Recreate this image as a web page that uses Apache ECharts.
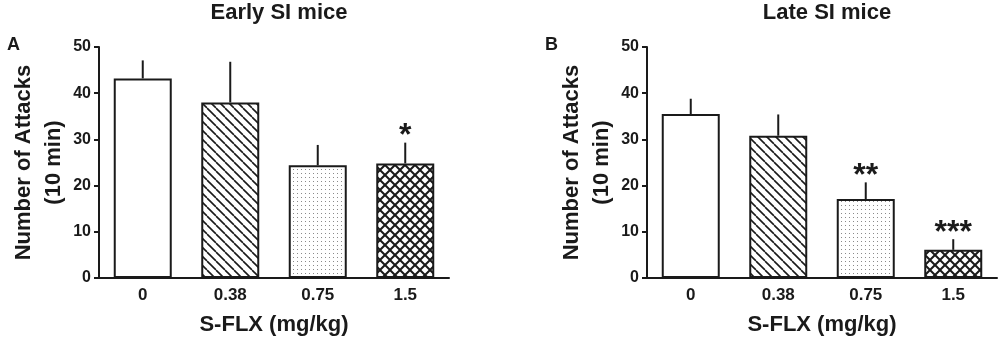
<!DOCTYPE html>
<html>
<head>
<meta charset="utf-8">
<script src="https://cdn.jsdelivr.net/npm/echarts@6/dist/echarts.min.js"></script>
<style>
html, body { margin: 0; padding: 0; background: #fff; }
#main { width: 1000px; height: 341px; }
</style>
</head>
<body>
<div id="main"></div>
<script>
var doses = ['0', '0.38', '0.75', '1.5'];
var earlyMean = [43.2, 38.0, 24.4, 24.8];
var earlyErr = [47.1, 46.8, 28.8, 29.3];
var earlySig = ['', '', '', '*'];
var lateMean = [35.5, 30.8, 17.1, 6.1];
var lateErr = [38.8, 35.4, 20.7, 8.4];
var lateSig = ['', '', '**', '***'];
var yTicks = [0, 10, 20, 30, 40, 50];

var font = 'Liberation Sans, Arial, sans-serif';
var ink = '#1a1a1a';

// fill patterns for the bars
function tile(size, draw) {
    var c = document.createElement('canvas');
    c.width = size;
    c.height = size;
    var ctx = c.getContext('2d');
    ctx.fillStyle = '#fff';
    ctx.fillRect(0, 0, size, size);
    draw(ctx, size);
    return { image: c, repeat: 'repeat' };
}
function diag(ctx, p, dir) {
    for (var k = -1; k <= 1; k++) {
        ctx.beginPath();
        if (dir > 0) {
            ctx.moveTo(k * p, 0);
            ctx.lineTo(k * p + p, p);
        } else {
            ctx.moveTo(k * p + p, 0);
            ctx.lineTo(k * p, p);
        }
        ctx.stroke();
    }
}
var fills = [
    '#ffffff',
    tile(9, function (ctx, p) {
        ctx.strokeStyle = ink;
        ctx.lineWidth = 1.6;
        diag(ctx, p, 1);
    }),
    tile(4, function (ctx, p) {
        ctx.fillStyle = '#8a8a8a';
        ctx.fillRect(1, 1, 1, 1);
    }),
    tile(10, function (ctx, p) {
        ctx.strokeStyle = ink;
        ctx.lineWidth = 2;
        diag(ctx, p, 1);
        diag(ctx, p, -1);
    })
];

function barData(vals) {
    return vals.map(function (v, i) {
        return { value: v, itemStyle: { color: fills[i] } };
    });
}
function errData(mean, err) {
    return mean.map(function (v, i) { return [i, v, err[i]]; });
}
function errRender(sig) {
    return function (params, api) {
        var base = api.coord([api.value(0), api.value(1)]);
        var top = api.coord([api.value(0), api.value(2)]);
        return {
            type: 'group',
            children: [
                {
                    type: 'line',
                    shape: { x1: base[0], y1: base[1], x2: top[0], y2: top[1] },
                    style: { stroke: ink, lineWidth: 2 }
                },
                {
                    type: 'text',
                    style: {
                        x: top[0], y: top[1] - 6,
                        text: sig[params.dataIndex],
                        fill: ink,
                        font: 'bold 32px ' + font,
                        textAlign: 'center',
                        textVerticalAlign: 'middle'
                    }
                }
            ]
        };
    };
}

function xAxisOf(grid) {
    return {
        type: 'category',
        gridIndex: grid,
        data: doses,
        name: 'S-FLX (mg/kg)',
        nameLocation: 'middle',
        nameGap: 36,
        nameTextStyle: { color: ink, fontSize: 22, fontWeight: 'bold', fontFamily: font },
        axisLine: { lineStyle: { color: ink, width: 2 } },
        axisTick: { alignWithLabel: true, length: 5, lineStyle: { color: ink, width: 2 } },
        axisLabel: { color: ink, fontSize: 17, fontWeight: 'bold', fontFamily: font, margin: 9 }
    };
}
function yAxisOf(grid) {
    return {
        type: 'value',
        gridIndex: grid,
        min: yTicks[0],
        max: yTicks[yTicks.length - 1],
        interval: 10,
        name: 'Number of Attacks\n(10 min)',
        nameLocation: 'middle',
        nameGap: 25,
        nameTextStyle: { color: ink, fontSize: 22, fontWeight: 'bold', fontFamily: font, lineHeight: 30 },
        axisLine: { show: true, lineStyle: { color: ink, width: 2 } },
        axisTick: { show: true, length: 5, lineStyle: { color: ink, width: 2 } },
        axisLabel: { color: ink, fontSize: 16, fontWeight: 'bold', fontFamily: font, margin: 8 },
        splitLine: { show: false }
    };
}

var chart = echarts.init(document.getElementById('main'));
var titleStyle = { color: ink, fontSize: 22, fontWeight: 'bold', fontFamily: font };
var option = {
    animation: false,
    title: [
        { text: 'Early SI mice', left: 274, top: -3, textAlign: 'center', textStyle: titleStyle },
        { text: 'Late SI mice', left: 822, top: -3, textAlign: 'center', textStyle: titleStyle },
        { text: 'A', left: 2, top: 31, textStyle: { color: ink, fontSize: 18, fontWeight: 'bold', fontFamily: font } },
        { text: 'B', left: 540, top: 31, textStyle: { color: ink, fontSize: 18, fontWeight: 'bold', fontFamily: font } }
    ],
    grid: [
        { left: 99, right: 551, top: 47, bottom: 61.5 },
        { left: 647, right: 3, top: 47, bottom: 61.5 }
    ],
    xAxis: [xAxisOf(0), xAxisOf(1)],
    yAxis: [yAxisOf(0), yAxisOf(1)],
    series: [
        {
            type: 'bar', xAxisIndex: 0, yAxisIndex: 0, barWidth: 58,
            itemStyle: { borderColor: ink, borderWidth: 2 },
            data: barData(earlyMean)
        },
        {
            type: 'custom', xAxisIndex: 0, yAxisIndex: 0,
            renderItem: errRender(earlySig),
            data: errData(earlyMean, earlyErr)
        },
        {
            type: 'bar', xAxisIndex: 1, yAxisIndex: 1, barWidth: 58,
            itemStyle: { borderColor: ink, borderWidth: 2 },
            data: barData(lateMean)
        },
        {
            type: 'custom', xAxisIndex: 1, yAxisIndex: 1,
            renderItem: errRender(lateSig),
            data: errData(lateMean, lateErr)
        }
    ]
};
chart.setOption(option);
</script>
</body>
</html>
